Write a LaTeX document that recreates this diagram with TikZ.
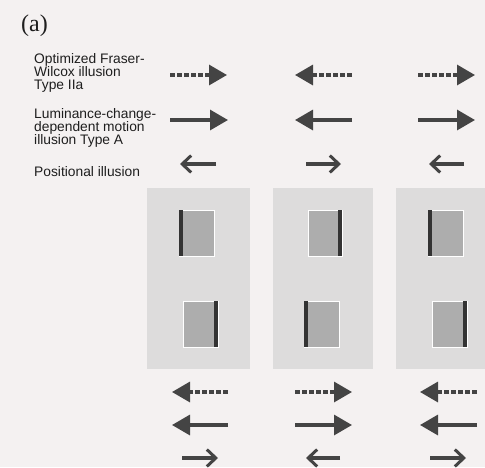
\documentclass[tikz,border=0pt]{standalone}
\usepackage{fontspec}
\setmainfont{Liberation Sans}
\newfontfamily\serifa{Liberation Serif}
\usetikzlibrary{arrows.meta}
\definecolor{bgc}{HTML}{F4F1F1}
\definecolor{panelc}{HTML}{DDDCDC}
\definecolor{rectc}{HTML}{ADADAD}
\definecolor{ink}{HTML}{444444}
\definecolor{barc}{HTML}{333333}
\definecolor{txt}{HTML}{1E1E1E}
\tikzset{
  bigsolid/.style={draw=ink, line width=3.2pt, -{Triangle[length=18pt,width=20pt]}},
  bigdash/.style={bigsolid, dash pattern=on 5pt off 2pt},
  posarrow/.style={draw=ink, line width=3.2pt, -{Straight Barb[length=9pt,width=17pt,line width=3pt]}},
  panel/.style={fill=panelc, draw=none},
  sq/.style={fill=rectc, draw=white, line width=0.8pt},
  bar/.style={fill=barc, draw=none},
  lbl/.style={anchor=north west, align=left, text=txt, inner sep=0pt,
    font=\fontsize{13.8}{13.2}\selectfont}
}
\begin{document}
\begin{tikzpicture}[x=1pt,y=-1pt]
\useasboundingbox (0,0) rectangle (485,467);
\fill[bgc] (0,0) rectangle (485,467);
\node[anchor=north west, inner sep=0pt, text=txt, font=\serifa\fontsize{24}{24}\selectfont] (title) at (21,15) {(a)};
\node[lbl] (l1) at (34,53) {Optimized Fraser-\\Wilcox illusion\\Type IIa};
\node[lbl] (l2) at (34,108) {Luminance-change-\\dependent motion\\illusion Type A};
\node[lbl] (l3) at (34,166) {Positional illusion};
% panels
\begin{scope}
\clip (0,0) rectangle (485,467);
\fill[panel] (147,188) rectangle (250,369);
\fill[panel] (273,188) rectangle (373,369);
\fill[panel] (396,188) rectangle (496,369);
\end{scope}
% squares: col1
\filldraw[sq] (179,210) rectangle (214,256);
\fill[bar] (179,210) rectangle (183,256);
\filldraw[sq] (183,301) rectangle (218,347);
\fill[bar] (214,301) rectangle (218,347);
% col2
\filldraw[sq] (308,210) rectangle (342,256);
\fill[bar] (338,210) rectangle (342,256);
\filldraw[sq] (304,301) rectangle (339,347);
\fill[bar] (304,301) rectangle (308,347);
% col3
\filldraw[sq] (428,210) rectangle (463,256);
\fill[bar] (428,210) rectangle (432,256);
\filldraw[sq] (432,301) rectangle (467,347);
\fill[bar] (463,301) rectangle (467,347);
% top arrows
\draw[bigdash] (170,75) -- (227,75);
\draw[bigsolid] (170,120) -- (228,120);
\draw[posarrow] (216,164) -- (180,164);
\draw[bigdash] (352,75) -- (295,75);
\draw[bigsolid] (352,120) -- (295,120);
\draw[posarrow] (306,164) -- (341,164);
\draw[bigdash] (418,75) -- (475,75);
\draw[bigsolid] (418,120) -- (475,120);
\draw[posarrow] (464,164) -- (429,164);
% bottom arrows
\draw[bigdash] (228,392) -- (172,392);
\draw[bigsolid] (228,425) -- (172,425);
\draw[posarrow] (182,458) -- (218,458);
\draw[bigdash] (295,392) -- (352,392);
\draw[bigsolid] (295,425) -- (352,425);
\draw[posarrow] (340,458) -- (306,458);
\draw[bigdash] (477,392) -- (420,392);
\draw[bigsolid] (477,425) -- (420,425);
\draw[posarrow] (430,458) -- (466,458);
\end{tikzpicture}
\end{document}
